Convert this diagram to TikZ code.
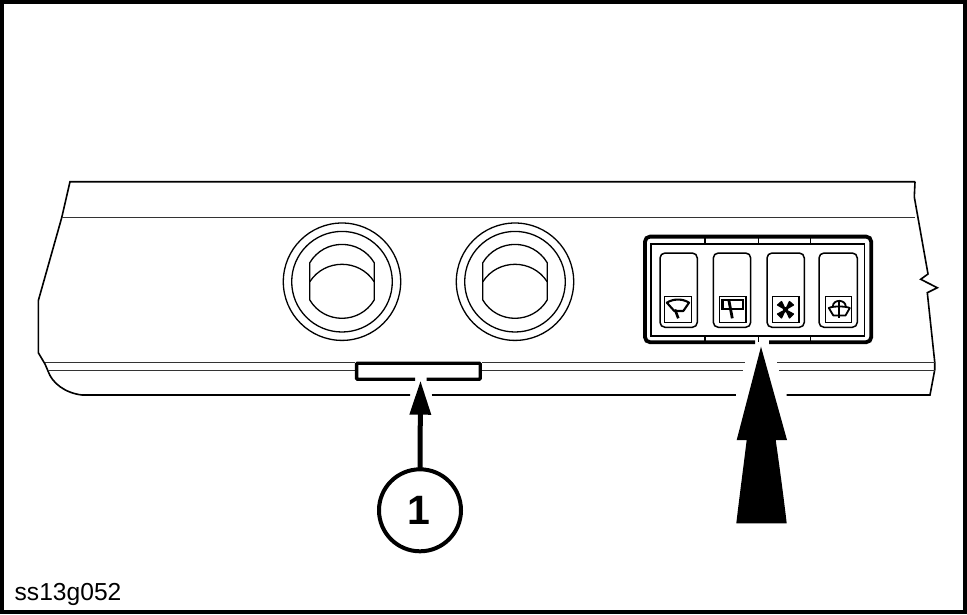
\documentclass[tikz,border=0pt]{standalone}
\usepackage{fontspec}
\setmainfont{Liberation Sans}
\usetikzlibrary{arrows.meta}
\definecolor{thinline}{HTML}{333333}
\tikzset{
  bodyline/.style={line width=1.6pt,black},
  greyline/.style={line width=1.4pt,thinline},
  knobline/.style={line width=1.3pt,black},
  switchbox/.style={line width=1.5pt,black,rounded corners=5pt},
  iconbox/.style={line width=1.4pt,black},
  iconink/.style={line width=2.1pt,black,line join=round},
  bandline/.style={line width=3.8pt,black},
}
\newcommand{\knobat}[1]{%
  \begin{scope}[shift={(#1,281.7)}]
    \draw[knobline] (0,0) circle (58.7);
    \draw[knobline] (0,0) circle (50.3);
    \draw[knobline] (-32.2,-19) .. controls (-17.7,-43.4) and (17.7,-43.4) .. (32.2,-19)
      -- (32.2,18.3) .. controls (17.7,42.7) and (-17.7,42.7) .. (-32.2,18.3) -- cycle;
    \draw[knobline] (-32.2,0) .. controls (-17.1,-23.2) and (17.1,-23.2) .. (32.2,0);
  \end{scope}}
\newcommand{\switchat}[4]{%
  \draw[switchbox] (#1,253) rectangle (#2,327.3);
  \draw[iconbox] (#3,296.3) rectangle (#4,322.3);}
\begin{document}
\begin{tikzpicture}[x=1pt,y=-1pt]
\useasboundingbox (0,0) rectangle (967,614);
% frame
\fill[black] (0,0) rectangle (967,614);
\fill[white] (3.7,3.7) rectangle (962.8,610);
% housing outline
\draw[bodyline] (915,181.7) -- (70,181.7) -- (61.7,217.7) -- (38.3,300.7) -- (38.3,352.7) -- (45,364) -- (48,371)
  .. controls (52,383) and (65,393) .. (82,395) -- (410,395);
\draw[bodyline] (431.7,395) -- (736,395);
\draw[bodyline] (786.5,395) -- (930,395) -- (934.7,370) -- (934.7,361.7) -- (927.3,292.7) -- (937.3,287.7)
  -- (920.7,279.3) -- (928,274) -- (914.3,197) -- (915,181.7);
% long lines
\draw[greyline] (61.7,217.7) -- (915,217.7);
\draw[greyline] (45,362.7) -- (355,362.7);
\draw[greyline] (48,370.7) -- (355,370.7);
\draw[greyline] (482,362.7) -- (745,362.7);
\draw[greyline] (482,370.7) -- (743,370.7);
\draw[greyline] (777.3,362.7) -- (934.7,362.7);
\draw[greyline] (779,370.7) -- (934.7,370.7);
% knobs
\knobat{342}
\knobat{515}
% slot
\draw[line width=3.4pt,black,rounded corners=1pt] (415,379.2) -- (356.6,379.2) -- (356.6,363.2) -- (480.2,363.2) -- (480.2,379.2) -- (426.7,379.2);
% control panel
\draw[bandline,rounded corners=5pt] (755,342.2) -- (645,342.2) -- (645,236.6) -- (871.2,236.6) -- (871.2,342.2) -- (769,342.2);
\draw[line width=1.4pt,black] (651,244) rectangle (864.3,336);
\foreach \tx in {705,758.7,810.7}{
  \draw[line width=1.2pt,black] (\tx,236.6) -- (\tx,244);
  \draw[line width=1.2pt,black] (\tx,336) -- (\tx,342.2);
}
% switches
\switchat{660}{697.3}{664.4}{691.4}
\switchat{713.3}{750.7}{719.3}{746}
\switchat{767}{804.3}{772.7}{799}
\switchat{819}{857.3}{825.7}{851.2}
% wiper icon 1
\draw[iconink] (666.9,302.7) .. controls (673,298.5) and (683,298.5) .. (689,302.7) -- (683.3,311) -- (674.3,311) -- cycle;
\draw[line width=2.6pt,black] (675,309.5) -- (678.3,318.3);
% wiper icon 2
\draw[line width=2pt,black] (722.3,300.4) rectangle (743.3,309.2);
\draw[line width=2.8pt,black] (729,301) -- (732.3,318.3);
\fill[black] (722.3,300.4) rectangle (724.2,309.2);
% fan icon
\foreach \ax/\ay/\bx/\by in {777.5/305/781.5/301.5, 789.5/301.5/793.5/305, 793.5/314/789.5/318, 781.5/318/777.5/314}{
  \fill[black,draw=black,line width=1.2pt,line join=round] (785.5,309.7) -- (\ax,\ay) -- (\bx,\by) -- cycle;
}
\fill[black] (785.5,309.7) circle (2.6);
% washer icon
\draw[line width=1.8pt,black,line join=round] (828.8,308) .. controls (832,306) and (846,306) .. (849.8,308) -- (845.5,315.5) -- (833.3,315.5) -- cycle;
\draw[line width=1.8pt,black] (832.8,306.5) .. controls (833,299) and (845.5,299) .. (845.8,306.5);
\draw[line width=1.9pt,black] (839.3,299.5) -- (839.3,317.5);
% big arrow
\fill[black] (761,346.7) -- (787,440) -- (775.7,440) .. controls (780,470) and (784,500) .. (786.7,523.3) -- (736.3,523.3) .. controls (739,500) and (743,470) .. (746.7,440) -- (736.7,440) -- cycle;
% callout
\node[circle,draw=black,line width=4pt,fill=white,minimum size=82pt,inner sep=0pt,outer sep=0pt,font=\bfseries\fontsize{41}{41}\selectfont] (callout) at (420,510.3) {\hspace*{-2.5pt}1};
\coordinate (slottip) at (420.5,380.7);
\draw[line width=5pt,black,-{Triangle[length=34pt,width=20.5pt]}] (callout.north) -- (slottip);
% figure code
\node[anchor=base west,inner sep=0pt,font=\fontsize{24.6}{24.6}\selectfont,text=black] (figcode) at (14.5,600) {ss13g052};
\end{tikzpicture}
\end{document}
